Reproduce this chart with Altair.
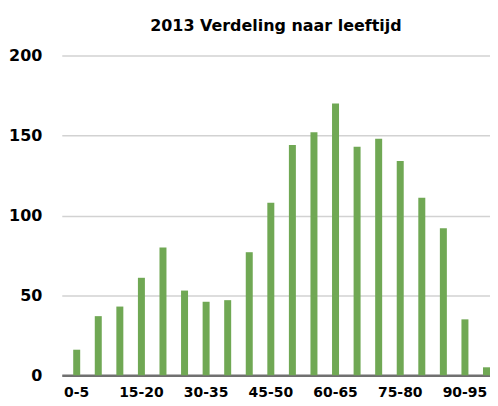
import altair as alt
import pandas as pd

categories = ["0-5", "5-10", "10-15", "15-20", "20-25", "25-30", "30-35", "35-40",
              "40-45", "45-50", "50-55", "55-60", "60-65", "65-70", "70-75", "75-80",
              "80-85", "85-90", "90-95", "95-100"]
values = [16, 37, 43, 61, 80, 53, 46, 47, 77, 108, 144, 152, 170, 143, 148, 134,
          111, 92, 35, 5]
shown_labels = ["0-5", "15-20", "30-35", "45-50", "60-65", "75-80", "90-95"]
y_ticks = [0, 50, 100, 150, 200]

df = pd.DataFrame({"cat": categories, "val": values})

font = "DejaVu Sans"

chart = alt.Chart(df).mark_bar(color="#70A854").encode(
    x=alt.X("cat:N", sort=categories, title=None,
            scale=alt.Scale(paddingInner=0.676, paddingOuter=0.265, align=1),
            axis=alt.Axis(values=shown_labels, labelAngle=0, ticks=False,
                          labelFont=font, labelFontWeight="bold", labelFontSize=14,
                          labelColor="#000000", labelPadding=10,
                          domainColor="#707070", domainWidth=2.5,
                          labelOverlap=False)),
    y=alt.Y("val:Q", title=None,
            scale=alt.Scale(domain=[0, 200], nice=False),
            axis=alt.Axis(values=y_ticks, ticks=False, domain=False,
                          labelFont=font, labelFontWeight="bold", labelFontSize=16,
                          labelColor="#000000", labelPadding=20,
                          gridColor="#d2d2d2", gridWidth=1.5)),
).properties(
    width=430,
    height=321,
    padding={"left": 0, "right": 0, "top": 9, "bottom": 0},
    title=alt.TitleParams("2013 Verdeling naar leeftijd", font=font, fontSize=16,
                          fontWeight="bold", color="#000000", offset=14,
                          anchor="middle"),
).configure_view(stroke=None)

chart.save("out.html", embed_options={"renderer": "svg", "actions": False})
